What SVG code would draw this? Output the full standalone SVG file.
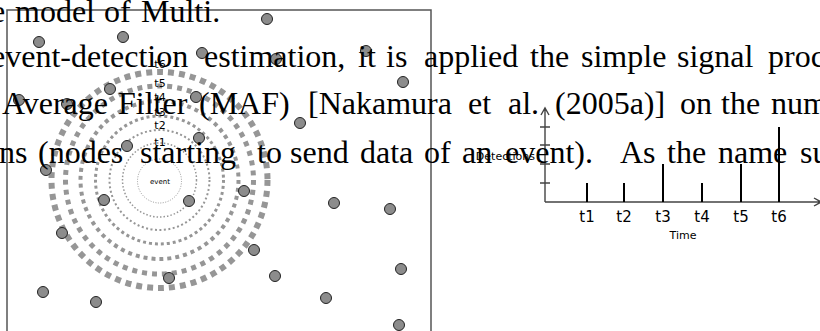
<svg xmlns="http://www.w3.org/2000/svg" width="820" height="331" viewBox="0 0 820 331">
<defs>
<style>
.ring{fill:none;stroke:#969696}
.node{fill:#8c8c8c;stroke:#222;stroke-width:1}
.para{font-family:"Liberation Serif",serif;font-size:32px;fill:#000}
.lbl{font-family:"DejaVu Sans",sans-serif;fill:#000}
.axis{stroke:#444;stroke-width:1.4;fill:none}
.bar{stroke:#000;stroke-width:2}
</style>
</defs>
<rect width="820" height="331" fill="#fff"/>
<g id="field">
<rect x="7" y="10" width="424" height="340" fill="none" stroke="#555" stroke-width="1.5"/>
</g>
<g id="rings">
<circle class="ring" cx="159.5" cy="181" r="22" stroke-width="1" stroke-dasharray="1 1.5"/>
<circle class="ring" cx="159.5" cy="180" r="37" stroke-width="1.5" stroke-dasharray="1.5 2"/>
<circle class="ring" cx="159.5" cy="180" r="50" stroke-width="2" stroke-dasharray="2 2.5"/>
<circle class="ring" cx="159.5" cy="180" r="64" stroke-width="3" stroke-dasharray="3 3"/>
<circle class="ring" cx="159.5" cy="180" r="79" stroke-width="4" stroke-dasharray="4 4"/>
<circle class="ring" cx="159.5" cy="180" r="94" stroke-width="5" stroke-dasharray="5 5"/>
<circle class="ring" cx="159.5" cy="180" r="108" stroke-width="6" stroke-dasharray="6 5"/>
<text class="lbl" x="160" y="184" font-size="7" text-anchor="middle">event</text>
<text class="lbl" x="160" y="146" font-size="11" text-anchor="middle">t1</text>
<text class="lbl" x="160" y="129" font-size="11" text-anchor="middle">t2</text>
<text class="lbl" x="160" y="116" font-size="11" text-anchor="middle">t3</text>
<text class="lbl" x="160" y="101" font-size="11" text-anchor="middle">t4</text>
<text class="lbl" x="160" y="87" font-size="11" text-anchor="middle">t5</text>
<text class="lbl" x="160" y="68" font-size="11" text-anchor="middle">t6</text>
</g>
<g id="nodes">
<circle class="node" cx="267" cy="19" r="5.5"/>
<circle class="node" cx="39" cy="42" r="5.5"/>
<circle class="node" cx="123" cy="37" r="5.5"/>
<circle class="node" cx="202" cy="53" r="5.5"/>
<circle class="node" cx="276" cy="59" r="5.5"/>
<circle class="node" cx="366" cy="51" r="5.5"/>
<circle class="node" cx="403" cy="82" r="5.5"/>
<circle class="node" cx="110" cy="89" r="5.5"/>
<circle class="node" cx="19" cy="100" r="5.5"/>
<circle class="node" cx="67" cy="104" r="5.5"/>
<circle class="node" cx="196" cy="97" r="5.5"/>
<circle class="node" cx="300" cy="123" r="5.5"/>
<circle class="node" cx="199" cy="138" r="5.5"/>
<circle class="node" cx="127" cy="146" r="5.5"/>
<circle class="node" cx="46" cy="170" r="5.5"/>
<circle class="node" cx="244" cy="191" r="5.5"/>
<circle class="node" cx="104" cy="200" r="5.5"/>
<circle class="node" cx="189" cy="201" r="5.5"/>
<circle class="node" cx="334" cy="203" r="5.5"/>
<circle class="node" cx="390" cy="209" r="5.5"/>
<circle class="node" cx="62" cy="233" r="5.5"/>
<circle class="node" cx="254" cy="250" r="5.5"/>
<circle class="node" cx="401" cy="269" r="5.5"/>
<circle class="node" cx="275" cy="276" r="5.5"/>
<circle class="node" cx="169" cy="278" r="5.5"/>
<circle class="node" cx="43" cy="292" r="5.5"/>
<circle class="node" cx="96" cy="302" r="5.5"/>
<circle class="node" cx="326" cy="298" r="5.5"/>
<circle class="node" cx="399" cy="325" r="5.5"/>
</g>
<g id="chart">
<path class="axis" d="M545 202V109M541 115L545 108L549 115"/>
<path class="axis" d="M545 202H820M814 198L821 202L814 206"/>
<path class="axis" d="M540 127H550M540 145H550M540 164H550M540 183H550"/>
<path class="bar" d="M587 202V183M624 202V183M663 202V164M702 202V183M741 202V164M779 202V127"/>
<text class="lbl" font-size="15" text-anchor="middle" y="222"><tspan x="587">t1</tspan><tspan x="624">t2</tspan><tspan x="663">t3</tspan><tspan x="702">t4</tspan><tspan x="741">t5</tspan><tspan x="779">t6</tspan></text>
<text class="lbl" font-size="11" x="683" y="239" text-anchor="middle">Time</text>
<text class="lbl" font-size="11" x="535" y="160" text-anchor="end">Detections</text>
</g>
<g id="paragraph" class="para">
<text y="22"><tspan x="-9">e</tspan><tspan x="15">model</tspan><tspan x="104">of</tspan><tspan x="141">Multi.</tspan></text>
<text y="67"><tspan x="-9">event-detection</tspan><tspan x="204">estimation,</tspan><tspan x="358">it</tspan><tspan x="386">is</tspan><tspan x="424">applied</tspan><tspan x="530">the</tspan><tspan x="581">simple</tspan><tspan x="677">signal</tspan><tspan x="768">proc</tspan></text>
<text y="114"><tspan x="2">Average</tspan><tspan x="118">Filter</tspan><tspan x="199">(MAF)</tspan><tspan x="308">[Nakamura</tspan><tspan x="468">et</tspan><tspan x="508">al.</tspan><tspan x="555">(2005a)]</tspan><tspan x="680">on</tspan><tspan x="721">the</tspan><tspan x="771">num</tspan></text>
<text y="163"><tspan x="-1">ns</tspan><tspan x="38">(nodes</tspan><tspan x="140">starting</tspan><tspan x="257">to</tspan><tspan x="290">send</tspan><tspan x="360">data</tspan><tspan x="424">of</tspan><tspan x="462">an</tspan><tspan x="505">event).</tspan><tspan x="620">As</tspan><tspan x="667">the</tspan><tspan x="718">name</tspan><tspan x="800">su</tspan></text>
</g>
</svg>
